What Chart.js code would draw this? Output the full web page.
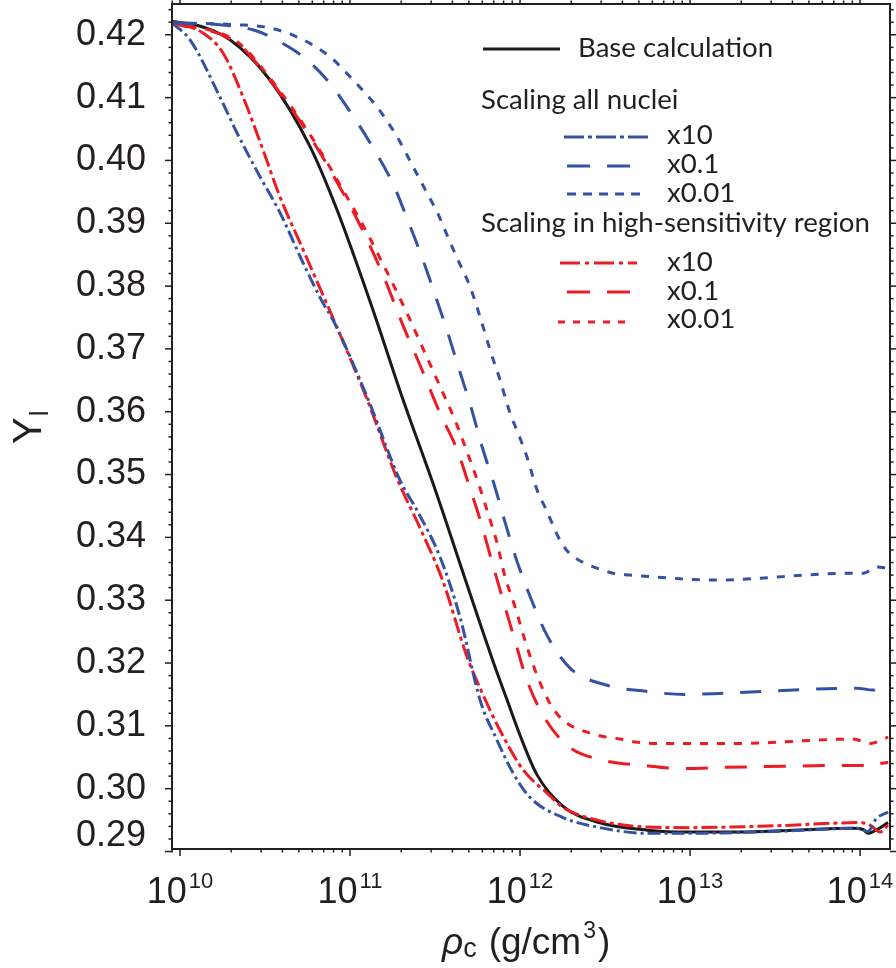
<!DOCTYPE html>
<html lang="en">

<head>
    <meta charset="UTF-8">
    <title>Y_l vs central density</title>
    <script src="https://cdn.jsdelivr.net/npm/chart.js"></script>
    <style>
        body {
            margin: 0;
            background: #ffffff;
        }

        canvas {
            display: block;
        }
    </style>
</head>

<body>
    <canvas id="ylChart" width="896" height="968"></canvas>

    <script>
        // x values are log10(rho_c), y values are Y_l
        const baseExp = [9.953, 10.088, 10.294, 10.529, 10.765, 10.924, 11.135, 11.312, 11.488, 11.688, 11.765, 11.841, 11.924, 12.0, 12.1, 12.253, 12.453, 12.747, 13.0, 13.294, 13.6, 13.959, 14.018, 14.047, 14.094, 14.165];
        const baseY = [0.4221, 0.4216, 0.4192, 0.4128, 0.4022, 0.3921, 0.3762, 0.3619, 0.3486, 0.3325, 0.3263, 0.3203, 0.3141, 0.3085, 0.3022, 0.2972, 0.2947, 0.2934, 0.2931, 0.2931, 0.2934, 0.2937, 0.2935, 0.2929, 0.2934, 0.2946];

        const allX10Exp = [9.953, 10.059, 10.235, 10.335, 10.471, 10.588, 10.724, 10.841, 10.9, 11.1, 11.294, 11.394, 11.529, 11.647, 11.765, 11.865, 11.959, 12.059, 12.253, 12.453, 12.747, 13.0, 13.5, 13.982, 14.047, 14.094, 14.165];
        const allX10Y = [0.4219, 0.4192, 0.4101, 0.4044, 0.3974, 0.3917, 0.3837, 0.3773, 0.3746, 0.3624, 0.3491, 0.3443, 0.3369, 0.3273, 0.3141, 0.3077, 0.3025, 0.2986, 0.2954, 0.2939, 0.2929, 0.2929, 0.2932, 0.2937, 0.2932, 0.2952, 0.2963];

        const allX01Exp = [9.953, 10.235, 10.429, 10.529, 10.724, 10.865, 10.982, 11.118, 11.259, 11.335, 11.418, 11.494, 11.571, 11.641, 11.712, 11.776, 11.847, 11.912, 11.982, 12.065, 12.159, 12.294, 12.506, 12.741, 12.965, 13.206, 13.982, 14.076, 14.135, 14.165];
        const allX01Y = [0.4219, 0.4216, 0.4208, 0.4197, 0.4165, 0.4128, 0.4085, 0.4028, 0.3959, 0.3908, 0.3850, 0.3791, 0.3729, 0.3668, 0.3607, 0.3545, 0.3485, 0.3424, 0.3362, 0.3302, 0.3244, 0.3192, 0.3165, 0.3155, 0.3150, 0.3152, 0.3160, 0.3157, 0.3165, 0.3165];

        const allX001Exp = [9.953, 10.335, 10.529, 10.724, 10.882, 11.018, 11.159, 11.276, 11.371, 11.459, 11.512, 11.571, 11.629, 11.706, 11.765, 11.824, 11.882, 11.941, 12.0, 12.047, 12.076, 12.106, 12.147, 12.188, 12.224, 12.282, 12.365, 12.453, 12.547, 12.647, 12.794, 13.135, 13.959, 14.018, 14.1, 14.165];
        const allX001Y = [0.4219, 0.4216, 0.4211, 0.4192, 0.4165, 0.4128, 0.4085, 0.4038, 0.3990, 0.3945, 0.3918, 0.3881, 0.3845, 0.3799, 0.3751, 0.3698, 0.3651, 0.3598, 0.3558, 0.3523, 0.3496, 0.3471, 0.3448, 0.3423, 0.3401, 0.3377, 0.3361, 0.3351, 0.3343, 0.3340, 0.3337, 0.3332, 0.3343, 0.3343, 0.3353, 0.3351];

        const hsX10Exp = [9.953, 10.135, 10.253, 10.371, 10.488, 10.588, 10.706, 10.782, 10.9, 11.1, 11.276, 11.412, 11.547, 11.688, 11.765, 11.882, 12.018, 12.159, 12.253, 12.453, 12.747, 13.0, 13.5, 14.0, 14.059, 14.118, 14.165];
        const hsX10Y = [0.4219, 0.4203, 0.4171, 0.4101, 0.4017, 0.3942, 0.3869, 0.3822, 0.3749, 0.3620, 0.3494, 0.3415, 0.3330, 0.3210, 0.3160, 0.3093, 0.3030, 0.2993, 0.2970, 0.2950, 0.2939, 0.2938, 0.2941, 0.2946, 0.2942, 0.2931, 0.2942];

        const hsX01Exp = [9.953, 10.335, 10.529, 10.765, 10.982, 11.088, 11.206, 11.306, 11.412, 11.529, 11.629, 11.700, 11.771, 11.835, 11.900, 11.971, 12.035, 12.129, 12.276, 12.494, 12.724, 12.959, 13.212, 14.0, 14.076, 14.118, 14.165];
        const hsX01Y = [0.4219, 0.4187, 0.4128, 0.4038, 0.3937, 0.3881, 0.3810, 0.3741, 0.3674, 0.3598, 0.3540, 0.3483, 0.3423, 0.3361, 0.3300, 0.3235, 0.3177, 0.3120, 0.3069, 0.3045, 0.3037, 0.3032, 0.3034, 0.3037, 0.3036, 0.3040, 0.3042];

        const hsX001Exp = [9.953, 10.335, 10.529, 10.765, 10.982, 11.1, 11.22, 11.33, 11.43, 11.53, 11.62, 11.69, 11.75, 11.806, 11.865, 11.912, 11.971, 12.029, 12.088, 12.165, 12.224, 12.294, 12.394, 12.488, 12.588, 12.688, 12.782, 12.941, 13.276, 13.959, 14.059, 14.165];
        const hsX001Y = [0.4219, 0.4189, 0.4131, 0.4041, 0.3942, 0.3885, 0.3821, 0.3760, 0.3700, 0.3640, 0.3585, 0.3535, 0.3490, 0.3443, 0.3391, 0.3337, 0.3289, 0.3236, 0.3189, 0.3141, 0.3117, 0.3101, 0.3090, 0.3083, 0.3079, 0.3074, 0.3072, 0.3072, 0.3072, 0.3079, 0.3072, 0.3082];

        // axis ticks
        const xTickExps = [10, 11, 12, 13, 14];
        const yTickLabels = ['0.29', '0.30', '0.31', '0.32', '0.33', '0.34', '0.35', '0.36', '0.37', '0.38', '0.39', '0.40', '0.41', '0.42'];

        const BLUE = '#3452a4';
        const RED = '#ed1c24';
        const BLACK = '#1a1a1a';
        const INK = '#231f20';

        function toPoints(exps, ys) {
            return exps.map((e, i) => ({ x: Math.pow(10, e), y: ys[i] }));
        }

        function line(ctx, x1, y1, x2, y2) {
            ctx.beginPath();
            ctx.moveTo(x1, y1);
            ctx.lineTo(x2, y2);
            ctx.stroke();
        }

        // legend rows: [label, color, dash, x1, x2, lineY, textX, baseline]
        const legendRows = [
            ['Base calculation', BLACK, [], 483, 560, 49, 578, 57],
            ['x10', BLUE, [20, 4, 4, 4], 564, 648, 137, 667, 144],
            ['x0.1', BLUE, [23, 17], 567, 631, 166, 667, 173],
            ['x0.01', BLUE, [9, 7], 567, 641, 194, 667, 202],
            ['x10', RED, [20, 5, 4, 5], 560, 637, 263, 667, 271],
            ['x0.1', RED, [23, 17], 567, 631, 292, 667, 300],
            ['x0.01', RED, [7, 8], 558, 632, 322, 667, 328]
        ];

        const decorPlugin = {
            id: 'decor',
            afterDraw(chart) {
                const ctx = chart.ctx;
                const a = chart.chartArea;
                const xs = chart.scales.x;
                const ys = chart.scales.y;
                ctx.save();
                ctx.setLineDash([]);
                ctx.strokeStyle = INK;
                ctx.fillStyle = INK;

                // frame
                ctx.lineWidth = 2;
                ctx.strokeRect(a.left, a.top, a.right - a.left, a.bottom - a.top);

                // y ticks, every 0.002
                ctx.lineWidth = 1.5;
                for (let m = 290; m <= 424; m += 2) {
                    const py = ys.getPixelForValue(m / 1000);
                    const len = m % 10 === 0 ? 7 : 3.5;
                    line(ctx, a.left - len, py, a.left, py);
                    line(ctx, a.right, py, a.right + len, py);
                }

                // x ticks, 1..9 per decade
                for (let d = 9; d <= 14; d++) {
                    for (let k = 1; k <= 9; k++) {
                        const v = k * Math.pow(10, d);
                        if (v < xs.min || v > xs.max) continue;
                        const px = xs.getPixelForValue(v);
                        const len = k === 1 ? 7 : 3.5;
                        line(ctx, px, a.bottom, px, a.bottom + len);
                        line(ctx, px, a.top - len, px, a.top);
                    }
                }

                // y tick labels
                ctx.font = '36px "Liberation Sans", Arial, sans-serif';
                ctx.textAlign = 'right';
                ctx.textBaseline = 'middle';
                yTickLabels.forEach(t => {
                    const py = ys.getPixelForValue(parseFloat(t));
                    ctx.fillText(t, 146, Math.min(py, a.bottom - 13));
                });

                // x tick labels 10^n
                ctx.textAlign = 'left';
                ctx.textBaseline = 'alphabetic';
                xTickExps.forEach(e => {
                    const px = xs.getPixelForValue(Math.pow(10, e));
                    ctx.font = '36px "Liberation Sans", Arial, sans-serif';
                    const wb = ctx.measureText('10').width;
                    ctx.font = '22px "Liberation Sans", Arial, sans-serif';
                    const ws = ctx.measureText(String(e)).width;
                    const x0 = px - (wb + ws + 2) / 2;
                    ctx.font = '36px "Liberation Sans", Arial, sans-serif';
                    ctx.fillText('10', x0, 903);
                    ctx.font = '22px "Liberation Sans", Arial, sans-serif';
                    ctx.fillText(String(e), x0 + wb + 2, 888);
                });

                // x axis title: rho_c (g/cm^3)
                let x = 442;
                ctx.font = 'italic 37px "Liberation Sans", Arial, sans-serif';
                ctx.fillText('ρ', x, 954);
                x += ctx.measureText('ρ').width;
                ctx.font = '27px "Liberation Sans", Arial, sans-serif';
                ctx.fillText('c', x, 957);
                x += ctx.measureText('c').width + 12;
                ctx.font = '37px "Liberation Sans", Arial, sans-serif';
                ctx.fillText('(g/cm', x, 954);
                x += ctx.measureText('(g/cm').width + 2;
                ctx.font = '23px "Liberation Sans", Arial, sans-serif';
                ctx.fillText('3', x, 938);
                x += ctx.measureText('3').width + 2;
                ctx.font = '37px "Liberation Sans", Arial, sans-serif';
                ctx.fillText(')', x, 954);

                // y axis title: Y_l
                ctx.save();
                ctx.translate(41, 444);
                ctx.rotate(-Math.PI / 2);
                ctx.font = '40px "Liberation Sans", Arial, sans-serif';
                ctx.fillText('Y', 0, 0);
                const wy = ctx.measureText('Y').width;
                ctx.font = '26px "Liberation Sans", Arial, sans-serif';
                ctx.fillText('l', wy + 1, 7);
                ctx.restore();

                // legend
                const fam = 'Lato, "Open Sans", sans-serif';
                ctx.font = '100px ' + fam;
                const wRef = ctx.measureText('Scaling in high-sensitivity region').width;
                const size = 100 * 389 / wRef;
                ctx.font = size + 'px ' + fam;
                ctx.fillStyle = INK;
                ctx.fillText('Scaling all nuclei', 481, 109);
                ctx.fillText('Scaling in high-sensitivity region', 481, 232);
                ctx.lineWidth = 3;
                legendRows.forEach(r => {
                    ctx.strokeStyle = r[1];
                    ctx.setLineDash(r[2]);
                    line(ctx, r[3], r[5], r[4], r[5]);
                    ctx.setLineDash([]);
                    ctx.fillText(r[0], r[6], r[7]);
                });

                ctx.restore();
            }
        };

        function series(exps, ys, color, dash) {
            return {
                data: toPoints(exps, ys),
                borderColor: color,
                borderWidth: 3,
                borderDash: dash,
                pointRadius: 0,
                fill: false,
                cubicInterpolationMode: 'monotone'
            };
        }

        new Chart(document.getElementById('ylChart'), {
            type: 'line',
            data: {
                datasets: [
                    series(allX001Exp, allX001Y, BLUE, [8, 9]),
                    series(allX01Exp, allX01Y, BLUE, [21, 17]),
                    series(hsX001Exp, hsX001Y, RED, [8, 9]),
                    series(hsX01Exp, hsX01Y, RED, [22, 17]),
                    series(allX10Exp, allX10Y, BLUE, [13, 4, 3, 4]),
                    series(hsX10Exp, hsX10Y, RED, [16, 4, 4, 4]),
                    series(baseExp, baseY, BLACK, [])
                ]
            },
            options: {
                responsive: false,
                devicePixelRatio: 1,
                animation: false,
                events: [],
                layout: {
                    padding: { top: 4, right: 6, left: 0, bottom: 0 }
                },
                plugins: {
                    legend: { display: false },
                    tooltip: { enabled: false }
                },
                scales: {
                    x: {
                        type: 'logarithmic',
                        min: Math.pow(10, 9.953),
                        max: Math.pow(10, 14.176),
                        ticks: { display: false },
                        grid: { display: false },
                        border: { display: false },
                        afterFit(scale) { scale.height = 119; }
                    },
                    y: {
                        type: 'linear',
                        min: 0.2904,
                        max: 0.4249,
                        ticks: { display: false },
                        grid: { display: false },
                        border: { display: false },
                        afterFit(scale) { scale.width = 172; }
                    }
                }
            },
            plugins: [decorPlugin]
        });
    </script>
</body>

</html>
